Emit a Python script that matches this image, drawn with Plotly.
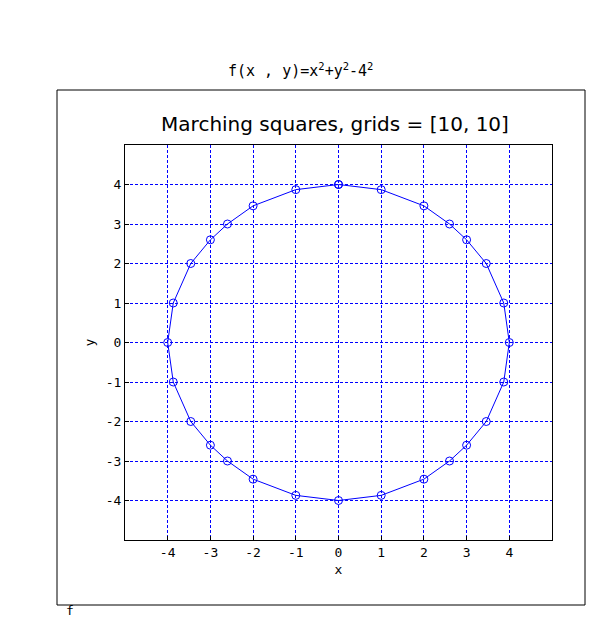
import plotly.graph_objects as go

# contour points (closed loop)
xs = [0, 1, 2, 2.6, 3, 3.46, 3.87, 4, 3.87, 3.46, 3, 2.6, 2, 1, 0,
      -1, -2, -2.6, -3, -3.46, -3.87, -4, -3.87, -3.46, -3, -2.6, -2, -1, 0]
ys = [4, 3.87, 3.46, 3, 2.6, 2, 1, 0, -1, -2, -2.6, -3, -3.46, -3.87, -4,
      -3.87, -3.46, -3, -2.6, -2, -1, 0, 1, 2, 2.6, 3, 3.46, 3.87, 4]
ticks = [-4, -3, -2, -1, 0, 1, 2, 3, 4]
tick_labels = ["-4", "-3", "-2", "-1", "0", "1", "2", "3", "4"]

# page has an 8px body margin, so everything is placed 8px up/left
W, H = 582, 624
L, R, T, B = 117, 544, 137, 532
pw, ph = R - L, B - T

fig = go.Figure()
fig.add_trace(go.Scatter(
    x=xs, y=ys, mode="lines+markers",
    line=dict(color="#0000ff", width=1),
    marker=dict(symbol="circle-open", size=8, color="#0000ff", line=dict(width=1)),
    showlegend=False,
))

axis = dict(
    range=[-5, 5], tickvals=ticks, ticktext=tick_labels,
    showgrid=True, gridcolor="#0000ff", griddash="3px,2px", gridwidth=1,
    zeroline=False, showline=True, mirror=True, linecolor="#000", linewidth=1,
    ticks="inside", ticklen=4, tickcolor="#000",
    tickfont=dict(family="DejaVu Sans Mono", size=13, color="#000"),
    title_font=dict(family="DejaVu Sans Mono", size=13, color="#000"),
)
fig.update_xaxes(**axis, title_text="x", title_standoff=6)
fig.update_yaxes(**axis, title_text="y", title_standoff=8)

fig.update_layout(
    width=W, height=H,
    paper_bgcolor="white", plot_bgcolor="white",
    margin=dict(l=L, r=W - R, t=T, b=H - B, autoexpand=False),
    title=dict(text="Marching squares, grids = [10, 10]", x=(335 - 8) / W, xanchor="center",
               y=1 - 116 / H, yanchor="middle",
               font=dict(family="DejaVu Sans", size=20, color="#000")),
    shapes=[dict(type="rect", xref="paper", yref="paper",
                 x0=(49 - L) / pw, x1=(577 - L) / pw,
                 y0=(B - 597) / ph, y1=(B - 82) / ph,
                 line=dict(color="#000", width=1))],
    annotations=[
        dict(text="f(x , y)=x<sup>2</sup>+y<sup>2</sup>-4<sup>2</sup>",
             xref="paper", yref="paper", x=(292 - L) / pw, y=(B - 50) / ph,
             showarrow=False, font=dict(family="DejaVu Sans Mono", size=15, color="#000")),
        dict(text="f", xref="paper", yref="paper", x=(56 - L) / pw, y=(B - 612) / ph,
             showarrow=False, font=dict(family="DejaVu Sans Mono", size=13, color="#000")),
    ],
)
fig.write_html("out.html")
